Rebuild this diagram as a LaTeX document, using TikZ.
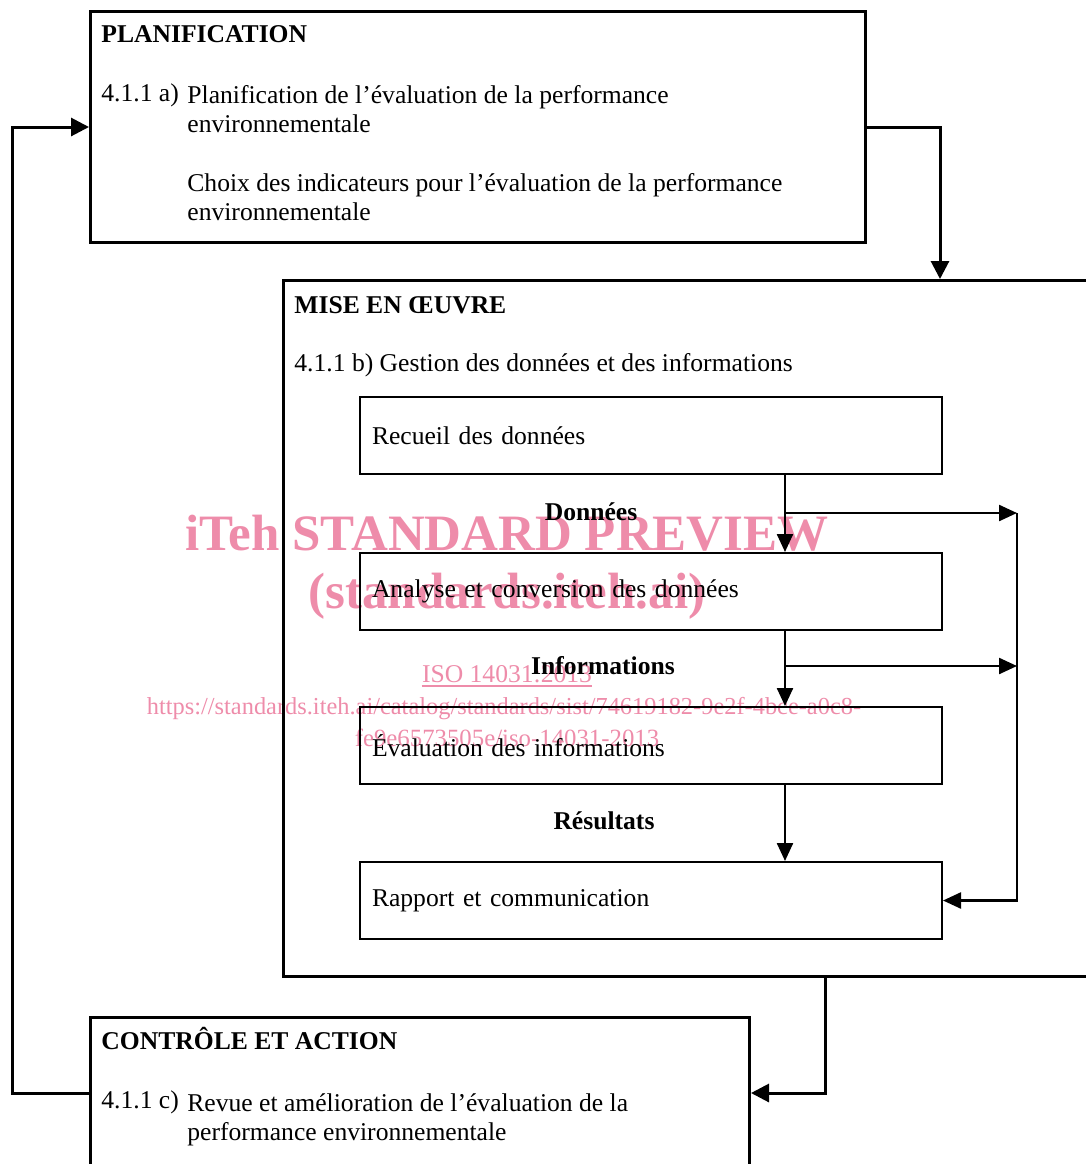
\documentclass[tikz,border=0pt]{standalone}
\usepackage{fontspec}
\setmainfont{Liberation Serif}
\usetikzlibrary{arrows.meta}
\definecolor{wmpink}{RGB}{238,140,170}

\begin{document}
\begin{tikzpicture}[x=0.5pt, y=-0.5pt, font=\fontsize{12.8}{14.5}\selectfont,
    bigbox/.style={draw, line width=1.5pt, anchor=north west, inner sep=0pt},
    subbox/.style={draw, line width=1pt, anchor=north west, inner xsep=6pt, inner ysep=0pt,
      minimum width=291pt, minimum height=38.5pt, text width=279pt, align=left},
    txt/.style={anchor=base west, inner sep=0pt},
    head/.style={anchor=base west, inner sep=0pt, font=\fontsize{12.8}{14.5}\selectfont\bfseries},
    flow/.style={anchor=base, inner sep=0pt, font=\fontsize{12.8}{14.5}\selectfont\bfseries},
    wm/.style={inner sep=0pt, text=wmpink},
    arr/.style={line width=1.2pt, -{Triangle[length=9pt,width=8pt]}},
    bigarr/.style={line width=1.5pt, -{Triangle[length=9pt,width=9pt]}}]
  \useasboundingbox (0,0) rectangle (1086,1164);
  \clip (0,0) rectangle (1086,1164);

  % 透かし
  \node [wm, font=\fontsize{25.5}{28}\selectfont\bfseries] (wmtitle) at (507,533) {iTeh STANDARD PREVIEW};
  \node [wm, font=\fontsize{25.5}{28}\selectfont\bfseries] (wmsite) at (507,596) {(standards.iteh.ai)};
  \node [wm, anchor=base, font=\fontsize{12.8}{14}\selectfont] (wmiso) at (507,682) {ISO 14031:2013};
  \draw [wmpink, line width=0.6pt] ([yshift=-2pt]wmiso.base west) -- ([yshift=-2pt]wmiso.base east);
  \node [wm, anchor=base, font=\fontsize{12.2}{14}\selectfont] (wmurl) at (504,714) {https://standards.iteh.ai/catalog/standards/sist/74619182-9e2f-4bce-a0c8-};
  \node [wm, anchor=base, font=\fontsize{12.4}{14}\selectfont] (wmdoc) at (507,746) {fe9e6573505e/iso-14031-2013};

  % 大きな枠
  \node [bigbox, minimum width=387.5pt, minimum height=115.5pt] (plan) at (89,10) {};
  \node [bigbox, minimum width=406.5pt, minimum height=348pt] (mise) at (282,279) {};
  \node [bigbox, minimum width=329.5pt, minimum height=82pt] (ctrl) at (89,1016) {};

  % 計画
  \node [head] (planhead) at (101,42) {PLANIFICATION};
  \node [txt] (plannum) at (101,101) {4.1.1 a)};
  \node [txt] (plana1) at (187,103) {Planification de l’évaluation de la performance};
  \node [txt] (plana2) at (187,132) {environnementale};
  \node [txt] (planb1) at (187,191) {Choix des indicateurs pour l’évaluation de la performance};
  \node [txt] (planb2) at (187,220) {environnementale};

  % 実施
  \node [head] (misehead) at (294,313) {MISE EN ŒUVRE};
  \node [txt] (misesub) at (294,371) {4.1.1 b) Gestion des données et des informations};
  \node [subbox] (rec) at (359,396) {Recueil des données};
  \node [subbox] (ana) at (359,552) {Analyse et conversion des données};
  \node [subbox] (eva) at (359,706) {Évaluation des informations};
  \node [subbox] (rap) at (359,861) {Rapport et communication};
  \node [flow] (don) at (591,520) {Données};
  \node [flow] (inf) at (603,674) {Informations};
  \node [flow] (res) at (604,829) {Résultats};

  % 点検
  \node [head] (ctrlhead) at (101,1049) {CONTRÔLE ET ACTION};
  \node [txt] (ctrlnum) at (101,1108) {4.1.1 c)};
  \node [txt] (ctrla1) at (187,1111) {Revue et amélioration de l’évaluation de la};
  \node [txt] (ctrla2) at (187,1140) {performance environnementale};

  % 矢印
  \coordinate (spine) at (785,0);
  \coordinate (ret) at (1017,0);
  \coordinate (j1) at (785,513);
  \coordinate (j2) at (785,666);
  \draw [arr] (rec.south -| spine) -- (ana.north -| spine);
  \draw [arr] (ana.south -| spine) -- (eva.north -| spine);
  \draw [arr] (eva.south -| spine) -- (rap.north -| spine);
  \draw [arr] (j1) -- (j1 -| ret);
  \draw [arr] (j2) -- (j2 -| ret);
  \draw [arr] (j1 -| ret) -- (rap.east -| ret) -- (rap.east);

  \coordinate (pm) at (940,0);
  \coordinate (mc) at (825,1093);
  \coordinate (fb) at (12,1093);
  \draw [bigarr] (plan.east) -| (mise.north -| pm);
  \draw [bigarr] (mise.south -| mc) |- (ctrl.east |- mc);
  \draw [bigarr] (ctrl.west |- fb) -- (fb) |- (plan.west);
\end{tikzpicture}
\end{document}
